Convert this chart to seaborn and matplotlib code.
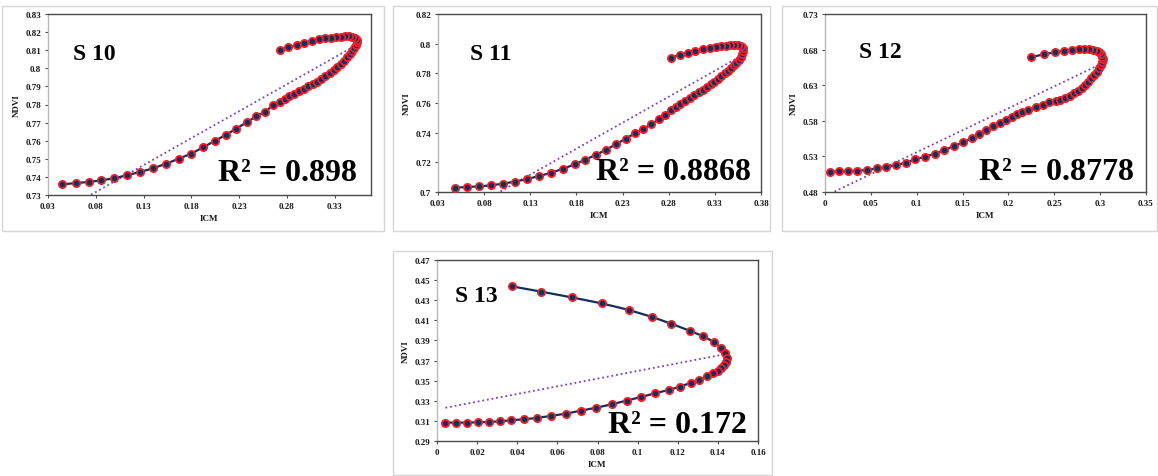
import numpy as np
import matplotlib
matplotlib.use("Agg")
import matplotlib.pyplot as plt
from matplotlib.patches import Rectangle
from matplotlib.ticker import FixedLocator, FuncFormatter
import seaborn as sns

# ---- data: ICM vs NDVI trajectories for four sites ----
s10_icm = [0.0450, 0.0594, 0.0727, 0.0859, 0.0989, 0.1122, 0.1262, 0.1401, 0.1538, 0.1671,
           0.1800, 0.1926, 0.2045, 0.2160, 0.2272, 0.2380, 0.2478, 0.2573, 0.2657, 0.2723,
           0.2776, 0.2825, 0.2877, 0.2930, 0.2975, 0.3024, 0.3069, 0.3115, 0.3161, 0.3203,
           0.3248, 0.3290, 0.3328, 0.3367, 0.3402, 0.3433, 0.3462, 0.3486, 0.3507, 0.3525,
           0.3535, 0.3531, 0.3514, 0.3483, 0.3451, 0.3412, 0.3367, 0.3318, 0.3258, 0.3199,
           0.3136, 0.3063, 0.2982, 0.2901, 0.2814, 0.2723]
s10_ndvi = [0.7359, 0.7366, 0.7372, 0.7381, 0.7392, 0.7409, 0.7427, 0.7448, 0.7473, 0.7501,
            0.7529, 0.7564, 0.7599, 0.7632, 0.7667, 0.7702, 0.7734, 0.7761, 0.7795, 0.7813,
            0.7830, 0.7845, 0.7857, 0.7872, 0.7887, 0.7900, 0.7913, 0.7924, 0.7939, 0.7955,
            0.7975, 0.7992, 0.8008, 0.8025, 0.8042, 0.8060, 0.8077, 0.8094, 0.8112, 0.8128,
            0.8143, 0.8158, 0.8169, 0.8174, 0.8177, 0.8177, 0.8174, 0.8173, 0.8169, 0.8166,
            0.8160, 0.8152, 0.8141, 0.8127, 0.8116, 0.8101]

s11_icm = [0.0489, 0.0616, 0.0747, 0.0875, 0.1005, 0.1133, 0.1264, 0.1398, 0.1529, 0.1656,
           0.1780, 0.1896, 0.2013, 0.2122, 0.2231, 0.2333, 0.2431, 0.2525, 0.2613, 0.2693,
           0.2762, 0.2827, 0.2878, 0.2925, 0.2980, 0.3031, 0.3075, 0.3125, 0.3169, 0.3213,
           0.3253, 0.3293, 0.3329, 0.3369, 0.3409, 0.3442, 0.3475, 0.3504, 0.3533, 0.3558,
           0.3580, 0.3598, 0.3609, 0.3605, 0.3584, 0.3551, 0.3511, 0.3467, 0.3420, 0.3365,
           0.3307, 0.3245, 0.3169, 0.3089, 0.3005, 0.2918, 0.2827]
s11_ndvi = [0.7029, 0.7034, 0.7038, 0.7045, 0.7056, 0.7070, 0.7087, 0.7108, 0.7130, 0.7157,
            0.7186, 0.7218, 0.7251, 0.7285, 0.7323, 0.7359, 0.7395, 0.7426, 0.7458, 0.7491,
            0.7518, 0.7550, 0.7574, 0.7594, 0.7615, 0.7635, 0.7653, 0.7673, 0.7689, 0.7709,
            0.7725, 0.7742, 0.7760, 0.7781, 0.7801, 0.7819, 0.7837, 0.7855, 0.7873, 0.7893,
            0.7913, 0.7933, 0.7951, 0.7969, 0.7983, 0.7989, 0.7991, 0.7991, 0.7987, 0.7983,
            0.7978, 0.7974, 0.7965, 0.7953, 0.7938, 0.7924, 0.7906]

s12_icm = [0.0058, 0.0153, 0.0247, 0.0345, 0.0455, 0.0564, 0.0665, 0.0775, 0.0880, 0.0982,
           0.1091, 0.1200, 0.1302, 0.1407, 0.1502, 0.1600, 0.1684, 0.1756, 0.1836, 0.1913,
           0.1978, 0.2036, 0.2095, 0.2153, 0.2218, 0.2298, 0.2375, 0.2447, 0.2516, 0.2564,
           0.2618, 0.2669, 0.2716, 0.2760, 0.2800, 0.2840, 0.2873, 0.2905, 0.2938, 0.2964,
           0.2985, 0.3007, 0.3022, 0.3029, 0.3025, 0.3011, 0.2989, 0.2964, 0.2927, 0.2880,
           0.2825, 0.2767, 0.2695, 0.2611, 0.2509, 0.2389, 0.2247]
s12_ndvi = [0.5085, 0.5090, 0.5094, 0.5099, 0.5108, 0.5132, 0.5150, 0.5179, 0.5211, 0.5258,
            0.5295, 0.5337, 0.5389, 0.5445, 0.5496, 0.5552, 0.5608, 0.5664, 0.5721, 0.5772,
            0.5814, 0.5851, 0.5889, 0.5921, 0.5950, 0.5987, 0.6024, 0.6062, 0.6085, 0.6099,
            0.6127, 0.6150, 0.6193, 0.6225, 0.6263, 0.6309, 0.6351, 0.6398, 0.6450, 0.6492,
            0.6543, 0.6590, 0.6632, 0.6669, 0.6702, 0.6735, 0.6763, 0.6781, 0.6795, 0.6805,
            0.6805, 0.6805, 0.6800, 0.6786, 0.6763, 0.6735, 0.6693]

s13_icm = [0.0373, 0.0520, 0.0672, 0.0823, 0.0958, 0.1070, 0.1168, 0.1260, 0.1325, 0.1380,
           0.1415, 0.1435, 0.1443, 0.1440, 0.1430, 0.1417, 0.1400, 0.1375, 0.1347, 0.1308,
           0.1267, 0.1213, 0.1155, 0.1088, 0.1018, 0.0945, 0.0872, 0.0795, 0.0718, 0.0642,
           0.0567, 0.0497, 0.0432, 0.0368, 0.0313, 0.0258, 0.0205, 0.0152, 0.0097, 0.0042]
s13_ndvi = [0.4438, 0.4385, 0.4328, 0.4268, 0.4202, 0.4135, 0.4066, 0.3996, 0.3943, 0.3886,
            0.3827, 0.3773, 0.3727, 0.3687, 0.3654, 0.3627, 0.3601, 0.3578, 0.3548, 0.3511,
            0.3481, 0.3441, 0.3408, 0.3375, 0.3338, 0.3302, 0.3265, 0.3232, 0.3202, 0.3172,
            0.3149, 0.3129, 0.3116, 0.3106, 0.3096, 0.3089, 0.3086, 0.3083, 0.3083, 0.3083]

site_names = ["S 10", "S 11", "S 12", "S 13"]
r2_labels = ["R² = 0.898", "R² = 0.8868", "R² = 0.8778", "R² = 0.172"]

x_ticks = [
    [0.03, 0.08, 0.13, 0.18, 0.23, 0.28, 0.33],
    [0.03, 0.08, 0.13, 0.18, 0.23, 0.28, 0.33, 0.38],
    [0.0, 0.05, 0.10, 0.15, 0.20, 0.25, 0.30, 0.35],
    [0.0, 0.02, 0.04, 0.06, 0.08, 0.10, 0.12, 0.14, 0.16],
]
y_ticks = [
    [0.73, 0.74, 0.75, 0.76, 0.77, 0.78, 0.79, 0.80, 0.81, 0.82, 0.83],
    [0.70, 0.72, 0.74, 0.76, 0.78, 0.80, 0.82],
    [0.48, 0.53, 0.58, 0.63, 0.68, 0.73],
    [0.29, 0.31, 0.33, 0.35, 0.37, 0.39, 0.41, 0.43, 0.45, 0.47],
]
x_limits = [(0.03, 0.368), (0.03, 0.38), (0.0, 0.35), (0.0, 0.16)]
y_limits = [(0.73, 0.83), (0.70, 0.82), (0.48, 0.73), (0.29, 0.47)]

series = [(s10_icm, s10_ndvi), (s11_icm, s11_ndvi), (s12_icm, s12_ndvi), (s13_icm, s13_ndvi)]

# ---- layout (pixel boxes: left, top, right, bottom) ----
W, H = 1158, 477
axes_px = [(48, 15, 371, 196), (438, 15, 761, 193), (825, 15, 1146, 193), (437, 261, 758, 442)]
frames_px = [(2, 7, 384, 232), (393, 7, 770, 232), (782, 7, 1157, 232), (393, 252, 772, 476)]
name_pos = [(0.077, 0.751), (0.099, 0.747), (0.106, 0.758), (0.056, 0.773)]
r2_pos = [(0.957, 0.083), (0.969, 0.073), (0.963, 0.073), (0.966, 0.050)]

sns.set_style("white")
plt.rcParams["font.family"] = ["Liberation Serif", "DejaVu Serif"]
plt.rcParams["font.weight"] = "bold"

NAVY = "#142f5c"
RED = "#f0202a"
PURPLE = "#7a3fc4"
SPINE_DARK = "#4a4a4a"
SPINE_LIGHT = "#b8b8b8"

fig = plt.figure(figsize=(W / 100, H / 100), dpi=100)


def fmt(v, _pos=None):
    s = f"{v:.2f}".rstrip("0").rstrip(".")
    return s


for (fl, ft, fr, fb) in frames_px:
    fig.patches.append(Rectangle((fl / W, 1 - fb / H), (fr - fl) / W, (fb - ft) / H,
                                 transform=fig.transFigure, fill=False,
                                 edgecolor="#d6d6d6", linewidth=1.0))

for i, (xs, ys) in enumerate(series):
    l, t, r, b = axes_px[i]
    ax = fig.add_axes([l / W, 1 - b / H, (r - l) / W, (b - t) / H])
    x = np.asarray(xs)
    y = np.asarray(ys)

    # linear trend line across the observed ICM range
    sns.regplot(x=x, y=y, ax=ax, scatter=False, ci=None, truncate=True,
                line_kws=dict(color=PURPLE, linestyle=(0, (1, 1.6)), linewidth=1.3, zorder=2))
    # observed trajectory
    sns.lineplot(x=x, y=y, ax=ax, sort=False, estimator=None, color=NAVY, linewidth=1.6,
                 marker="o", markersize=5.2, markerfacecolor=NAVY, markeredgecolor=RED,
                 markeredgewidth=1.3, zorder=3)

    ax.set_xlim(*x_limits[i])
    ax.set_ylim(*y_limits[i])
    ax.xaxis.set_major_locator(FixedLocator(x_ticks[i]))
    ax.yaxis.set_major_locator(FixedLocator(y_ticks[i]))
    ax.xaxis.set_major_formatter(FuncFormatter(fmt))
    ax.yaxis.set_major_formatter(FuncFormatter(fmt))
    ax.tick_params(axis="both", which="major", direction="out", length=2.5, width=0.8,
                   color=SPINE_DARK, labelsize=6.5, pad=2.5, labelcolor="#1a1a1a")
    ax.tick_params(bottom=True, left=True, top=False, right=False)
    for lab in ax.get_xticklabels() + ax.get_yticklabels():
        lab.set_fontweight("bold")

    ax.set_xlabel("ICM", fontsize=6.5, fontweight="bold", labelpad=3, color="#1a1a1a")
    ax.set_ylabel("NDVI", fontsize=6.5, fontweight="bold", labelpad=3, color="#1a1a1a")

    for side in ("top", "right", "bottom"):
        ax.spines[side].set_color(SPINE_DARK)
        ax.spines[side].set_linewidth(1.0)
    ax.spines["left"].set_color(SPINE_LIGHT)
    ax.spines["left"].set_linewidth(1.0)

    ax.text(name_pos[i][0], name_pos[i][1], site_names[i], transform=ax.transAxes,
            ha="left", va="baseline", fontsize=17, fontweight="bold", color="black")
    ax.text(r2_pos[i][0], r2_pos[i][1], r2_labels[i], transform=ax.transAxes,
            ha="right", va="baseline", fontsize=23, fontweight="bold", color="black")

fig.savefig("out.png", dpi=100)
